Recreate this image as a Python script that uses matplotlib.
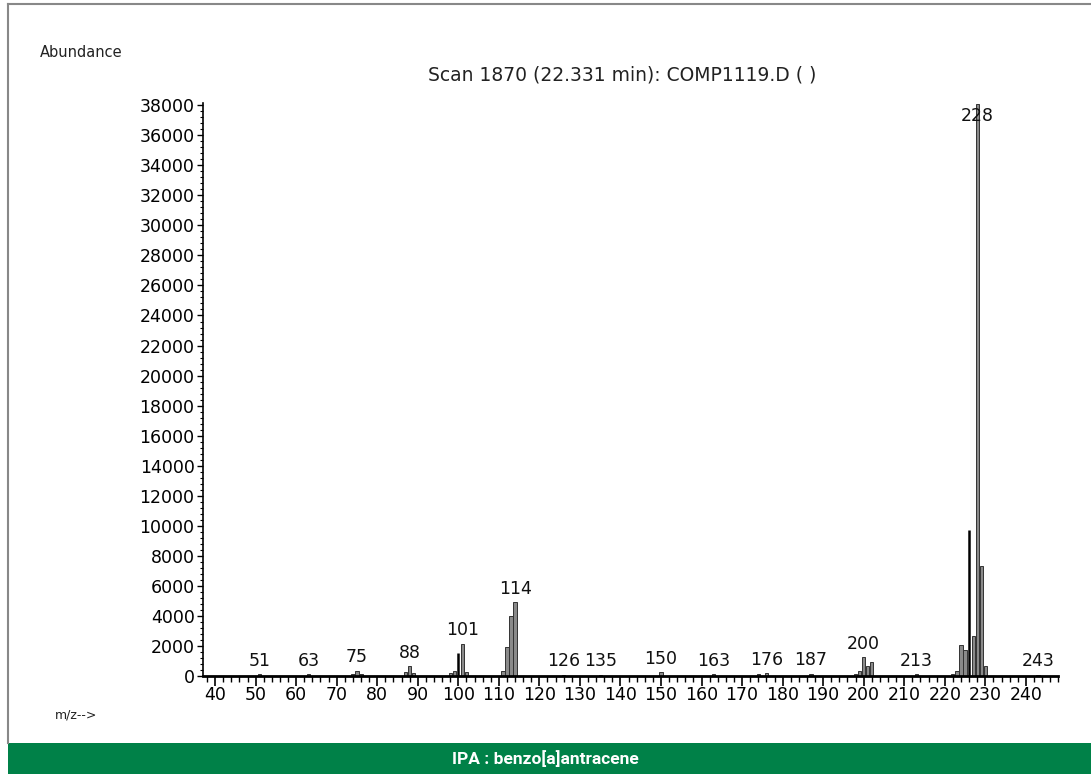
import matplotlib
matplotlib.use("Agg")
import matplotlib.pyplot as plt
from matplotlib.ticker import MultipleLocator
from matplotlib.patches import Rectangle
from matplotlib.lines import Line2D

# ---- data ----
mz = [51, 63, 74, 75, 76, 87, 88, 89, 98, 99, 100, 101, 102, 111, 112, 113, 114,
      126, 135, 150, 163, 174, 176, 187, 198, 199, 200, 201, 202, 213,
      222, 223, 224, 225, 226, 227, 228, 229, 230, 243]
abundance = [120, 120, 150, 350, 150, 250, 650, 200, 200, 350, 1550, 2150, 250,
             350, 1900, 4000, 4900,
             100, 100, 250, 120, 120, 200, 150, 150, 350, 1250, 650, 900, 120,
             150, 350, 2050, 1750, 9700, 2650, 38100, 7350, 650, 100]
dark_peaks = [100, 226]
labeled = [51, 63, 75, 88, 101, 114, 126, 135, 150, 163, 176, 187, 200, 213, 228, 243]
label_text = ["51", "63", "75", "88", "101", "114", "126", "135", "150", "163",
              "176", "187", "200", "213", "228", "243"]
xticks = list(range(40, 250, 10))
yticks = list(range(0, 38001, 2000))

title = "Scan 1870 (22.331 min): COMP1119.D ( )"
caption = "IPA : benzo[a]antracene"

plt.rcParams['font.family'] = ['DejaVu Sans']

fig = plt.figure(figsize=(10.91, 7.74), dpi=100)
ax = fig.add_axes([0.186, 0.1266, 0.784, 0.7404])

for m, a in zip(mz, abundance):
    if m in dark_peaks:
        ax.vlines(m, 0, a, color="black", lw=1.8)
    else:
        ax.bar(m, a, width=0.8, color="#8a8a8a", edgecolor="#333333", linewidth=0.7)

ymax = 38150
ax.set_xlim(37, 248)
ax.set_ylim(0, ymax)

lookup = dict(zip(mz, abundance))
for m, t in zip(labeled, label_text):
    v = lookup.get(m, 0)
    y = min(v + 300, ymax - 1500)
    ax.text(m, y, t, ha="center", va="bottom", fontsize=12.5, color="#111111")

ax.set_xticks(xticks)
ax.set_yticks(yticks)
ax.xaxis.set_minor_locator(MultipleLocator(2))
ax.yaxis.set_minor_locator(MultipleLocator(400))
ax.tick_params(axis="x", which="major", direction="out", length=7, width=1.2, labelsize=12.5, pad=0)
ax.tick_params(axis="x", which="minor", direction="out", length=4, width=1.0)
ax.tick_params(axis="y", which="major", direction="out", length=4, width=1.0, labelsize=12.5, pad=2)
ax.tick_params(axis="y", which="minor", direction="out", length=2, width=0.8)

ax.spines["top"].set_visible(False)
ax.spines["right"].set_visible(False)
ax.spines["bottom"].set_linewidth(2)
ax.spines["left"].set_linewidth(1.2)

fig.text(0.570, 0.903, title, ha="center", va="center", fontsize=13.5, color="#222222")
fig.text(0.037, 0.932, "Abundance", ha="left", va="center", fontsize=10.5, color="#222222")
fig.text(0.05, 0.076, "m/z-->", ha="left", va="center", fontsize=9, color="#222222")

# outer frame lines
fig.add_artist(Line2D([8/1091, 1.0], [1 - 4/774, 1 - 4/774], color="#888888", lw=1.5))
fig.add_artist(Line2D([8/1091, 8/1091], [31/774, 1 - 4/774], color="#888888", lw=1.5))

# green caption band
fig.add_artist(Rectangle((8/1091, 0), 1 - 8/1091, 31/774, transform=fig.transFigure,
                         facecolor="#008148", edgecolor="none"))
fig.text(0.5, 15/774, caption, ha="center", va="center", fontsize=12.5,
         color="white", fontweight="bold", family=["Roboto", "DejaVu Sans"])

fig.savefig("out.png", dpi=100)
